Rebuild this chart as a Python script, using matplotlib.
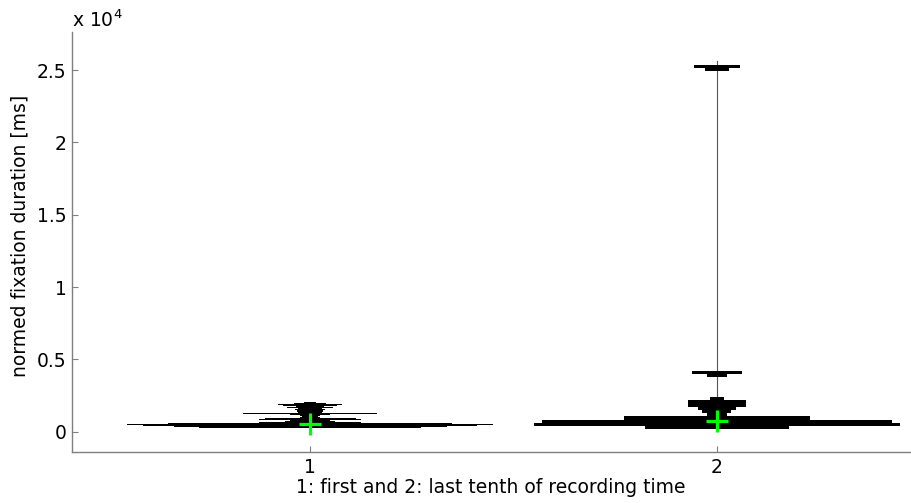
import numpy as np
import matplotlib
matplotlib.use("Agg")
import matplotlib.pyplot as plt

plt.rcParams['font.family'] = ['DejaVu Sans']

# Group positions and tick labels
groups = [1, 2]
xtick_labels = ['1', '2']
ytick_values = [0, 5000, 10000, 15000, 20000, 25000]
ytick_labels = ['0', '0.5', '1', '1.5', '2', '2.5']

# Histogram of group 1 (first tenth): bin centres [ms] and relative counts
g1_bin_width = 50
g1_centers = [250, 300, 350, 400, 450, 500, 550, 600, 650, 700,
              750, 800, 850, 900, 950, 1000, 1050, 1100, 1150, 1200,
              1250, 1300, 1350, 1400, 1450, 1500, 1550, 1600, 1650, 1700,
              1750, 1800, 1850, 1900, 1950, 2000]
g1_counts = [40, 110, 135, 150, 165, 181, 140, 90, 50, 25,
             12, 20, 50, 45, 25, 10, 8, 10, 12, 20,
             66, 18, 12, 13, 13, 10, 15, 12, 18, 23,
             14, 27, 22, 32, 16, 6]

# Histogram of group 2 (last tenth)
g2_bin_width = 225
g2_centers = [279, 504, 729, 954, 1179, 1404, 1629, 1854, 2079, 2304,
              3879, 4104, 25029, 25254]
g2_counts = [72, 183, 175, 93, 10, 14.5, 19, 29, 29, 7,
             10, 25, 12, 23]

# Data range and mean of each group
g_min = [225, 166]
g_max = [2025, 25620]
g_mean = [510, 740]

dist_width = 0.9
fs = 13.5

fig = plt.figure(figsize=(9.11, 5.03), dpi=100)
ax = fig.add_axes([72 / 911, 51 / 503, 838 / 911, 420 / 503])

hists = [(g1_centers, g1_counts, g1_bin_width),
         (g2_centers, g2_counts, g2_bin_width)]

for xpos, (centers, counts, bw), lo, hi in zip(groups, hists, g_min, g_max):
    # range line behind the histogram
    ax.plot([xpos, xpos], [lo, hi], color='#555555', lw=0.8, zorder=1)
    counts = np.asarray(counts, dtype=float)
    half = counts / counts.max() * dist_width / 2
    ax.barh(centers, 2 * half, height=bw, left=xpos - half,
            color='black', edgecolor='none', zorder=2)

ax.plot(groups, g_mean, linestyle='none', marker='+', markersize=16,
        markeredgewidth=2.3, color='#00ff00', zorder=3)

ax.set_xlim(0.4148, 2.475)
ax.set_ylim(-1400, 27630)

ax.set_xticks(groups)
ax.set_xticklabels(xtick_labels)
ax.set_yticks(ytick_values)
ax.set_yticklabels(ytick_labels)

for side in ('top', 'right'):
    ax.spines[side].set_visible(False)
for side in ('left', 'bottom'):
    ax.spines[side].set_color('#7f7f7f')
    ax.spines[side].set_linewidth(1.0)

ax.tick_params(direction='in', length=4.5, width=0.8, color='#7f7f7f',
               labelsize=fs, labelcolor='black')
ax.tick_params(axis='y', pad=4)
ax.tick_params(axis='x', pad=4)

ax.set_xlabel('1: first and 2: last tenth of recording time', fontsize=fs,
              labelpad=1)
ax.set_ylabel('normed fixation duration [ms]', fontsize=fs)
ax.yaxis.set_label_coords(-0.051, 0.515)

ax.text(0.0, 1.012, r'x 10$^{4}$', transform=ax.transAxes, fontsize=fs,
        ha='left', va='baseline')

fig.savefig('out.png', dpi=100)
